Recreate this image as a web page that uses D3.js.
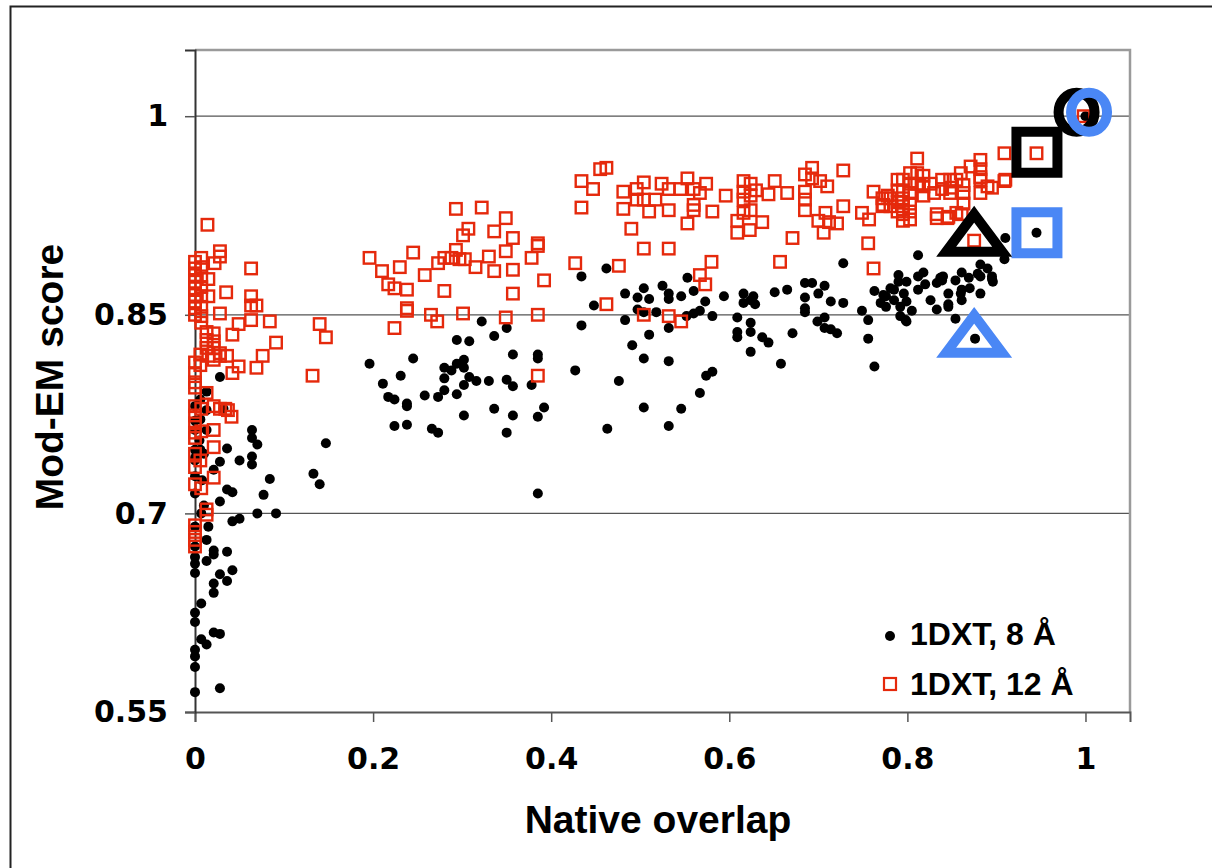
<!DOCTYPE html>
<html>
<head>
<meta charset="utf-8">
<script src="https://cdn.jsdelivr.net/npm/d3@7"></script>
<style>
  body { margin: 0; background: #fff; }
  svg { display: block; }
</style>
</head>
<body>
<div id="chart"></div>
<script>
// 1DXT, 8 A  (black dots)  [native overlap, Mod-EM score]
var points8 = [
  [0.028,0.803],[0.013,0.792],[0.006,0.786],[0.000,0.781],[0.013,0.778],[0.032,0.779],[0.006,0.771],[0.000,0.763],
  [0.013,0.763],[0.064,0.763],[0.064,0.757],[0.070,0.752],[0.036,0.749],[0.000,0.748],[0.006,0.748],[0.028,0.739],
  [0.050,0.740],[0.064,0.743],[0.064,0.737],[0.021,0.733],[0.084,0.726],[0.036,0.718],[0.042,0.716],[0.077,0.714],
  [0.028,0.709],[0.070,0.700],[0.091,0.700],[0.042,0.694],[0.050,0.696],[0.015,0.690],[0.013,0.680],[0.021,0.672],
  [0.036,0.671],[0.021,0.669],[0.000,0.667],[0.000,0.662],[0.013,0.664],[0.000,0.655],[0.042,0.657],[0.028,0.654],
  [0.036,0.649],[0.021,0.647],[0.021,0.640],[0.007,0.632],[0.000,0.625],[0.000,0.618],[0.021,0.610],[0.028,0.609],
  [0.007,0.605],[0.013,0.601],[0.000,0.597],[0.000,0.592],[0.000,0.584],[0.000,0.565],[0.028,0.568],[0.000,0.770],
  [0.005,0.755],[0.000,0.742],[0.010,0.745],[0.000,0.728],[0.008,0.725],[0.000,0.715],[0.010,0.706],[0.000,0.740],
  [0.000,0.690],[0.000,0.675],[0.007,0.700],
  [0.147,0.753],[0.133,0.730],[0.140,0.722],[0.196,0.813],
  [0.322,0.845],[0.350,0.840],[0.336,0.834],[0.294,0.831],[0.308,0.830],[0.245,0.817],[0.357,0.820],[0.385,0.820],
  [0.385,0.817],[0.231,0.804],[0.211,0.798],[0.280,0.810],[0.294,0.813],[0.302,0.816],[0.302,0.810],[0.288,0.808],
  [0.280,0.802],[0.308,0.803],[0.316,0.800],[0.330,0.800],[0.350,0.801],[0.357,0.796],[0.378,0.797],[0.302,0.797],
  [0.280,0.793],[0.273,0.788],[0.294,0.790],[0.217,0.788],[0.224,0.786],[0.258,0.789],[0.238,0.783],[0.238,0.781],
  [0.336,0.779],[0.392,0.780],[0.302,0.774],[0.357,0.774],[0.385,0.773],[0.224,0.766],[0.238,0.767],[0.266,0.764],
  [0.273,0.761],[0.350,0.761],[0.385,0.715],
  [0.434,0.879],[0.448,0.857],[0.434,0.842],[0.427,0.808],[0.462,0.885],[0.553,0.878],[0.483,0.866],[0.504,0.870],
  [0.497,0.863],[0.510,0.862],[0.497,0.854],[0.504,0.852],[0.483,0.846],[0.518,0.852],[0.525,0.872],[0.532,0.866],
  [0.532,0.862],[0.546,0.864],[0.560,0.868],[0.573,0.860],[0.560,0.851],[0.567,0.853],[0.552,0.849],[0.581,0.849],
  [0.594,0.864],[0.532,0.840],[0.510,0.835],[0.491,0.827],[0.504,0.817],[0.532,0.815],[0.476,0.800],[0.504,0.780],
  [0.546,0.779],[0.567,0.791],[0.574,0.804],[0.581,0.807],[0.532,0.766],[0.463,0.764],
  [0.616,0.866],[0.627,0.864],[0.616,0.859],[0.624,0.861],[0.629,0.858],[0.609,0.848],[0.624,0.844],[0.609,0.837],
  [0.609,0.833],[0.624,0.837],[0.637,0.833],[0.644,0.829],[0.624,0.822],[0.651,0.867],[0.665,0.869],[0.671,0.836],
  [0.658,0.813],[0.685,0.874],[0.693,0.874],[0.685,0.863],[0.700,0.866],[0.707,0.872],[0.714,0.860],[0.685,0.855],
  [0.685,0.852],[0.699,0.845],[0.707,0.848],[0.707,0.840],[0.714,0.839],[0.721,0.836],[0.728,0.889],[0.728,0.859],
  [0.749,0.853],[0.756,0.846],[0.756,0.832],[0.763,0.811],[0.763,0.868],[0.770,0.859],[0.776,0.856],[0.776,0.864],
  [0.785,0.869],[0.790,0.880],[0.790,0.875],[0.799,0.875],[0.785,0.861],[0.792,0.856],[0.799,0.860],[0.792,0.849],
  [0.799,0.845],[0.781,0.870],[0.773,0.865],[0.796,0.866],
  [0.805,0.853],[0.812,0.895],[0.812,0.879],[0.818,0.882],[0.812,0.869],[0.820,0.873],[0.826,0.861],[0.833,0.874],
  [0.840,0.879],[0.833,0.854],[0.846,0.866],[0.846,0.858],[0.854,0.876],[0.854,0.847],[0.861,0.882],[0.861,0.861],
  [0.869,0.878],[0.882,0.888],[0.882,0.879],[0.890,0.885],[0.882,0.866],[0.896,0.875],[0.876,0.832],[0.910,0.908],
  [0.909,0.892],[0.945,0.912],[1.000,1.000],[0.861,0.869],[0.846,0.856],[0.798,0.846],[0.839,0.876],[0.895,0.877],
  [0.837,0.878],[0.879,0.881],[0.895,0.879],[0.860,0.866],[0.870,0.870]
];

// 1DXT, 12 A  (red open squares)
var points12 = [
  [0.014,0.918],[0.028,0.898],[0.028,0.894],[0.022,0.889],[0.063,0.885],[0.035,0.867],[0.063,0.864],[0.063,0.857],
  [0.069,0.857],[0.028,0.851],[0.063,0.846],[0.084,0.845],[0.049,0.843],[0.042,0.835],[0.091,0.829],[0.076,0.819],
  [0.049,0.811],[0.069,0.810],[0.042,0.806],
  [0.000,0.890],[0.000,0.885],[0.000,0.880],[0.000,0.875],[0.000,0.870],[0.000,0.865],[0.000,0.860],[0.000,0.855],
  [0.000,0.850],[0.007,0.893],[0.007,0.886],[0.007,0.879],[0.007,0.871],[0.007,0.864],[0.007,0.856],[0.007,0.849],
  [0.007,0.844],[0.015,0.877],[0.015,0.864],
  [0.013,0.837],[0.021,0.836],[0.013,0.831],[0.021,0.830],[0.013,0.825],[0.021,0.825],[0.028,0.821],[0.006,0.820],
  [0.015,0.819],[0.021,0.816],[0.028,0.819],[0.036,0.819],[0.000,0.814],[0.006,0.812],[0.000,0.799],[0.013,0.791],
  [0.000,0.806],[0.000,0.795],
  [0.000,0.781],[0.007,0.779],[0.000,0.774],[0.021,0.781],[0.034,0.779],[0.041,0.773],[0.000,0.761],[0.007,0.762],
  [0.021,0.763],[0.021,0.750],[0.000,0.735],[0.021,0.727],[0.000,0.722],[0.007,0.719],[0.013,0.703],[0.013,0.699],
  [0.000,0.691],[0.000,0.686],[0.000,0.680],[0.000,0.675],[0.000,0.757],[0.000,0.768],[0.000,0.745],[0.006,0.740],
  [0.028,0.779],[0.037,0.778],
  [0.140,0.843],[0.147,0.833],[0.132,0.804],
  [0.196,0.893],[0.210,0.883],[0.230,0.886],[0.245,0.897],[0.217,0.873],[0.224,0.870],[0.238,0.869],[0.238,0.855],
  [0.238,0.853],[0.224,0.840],[0.258,0.880],[0.273,0.889],[0.280,0.893],[0.280,0.868],[0.265,0.850],[0.272,0.845],
  [0.288,0.893],[0.293,0.899],[0.293,0.930],[0.301,0.910],[0.307,0.915],[0.297,0.892],[0.303,0.892],[0.315,0.886],
  [0.322,0.931],[0.330,0.894],[0.336,0.913],[0.336,0.883],[0.349,0.923],[0.357,0.908],[0.349,0.898],[0.357,0.884],
  [0.357,0.866],[0.349,0.848],[0.301,0.851],[0.378,0.893],[0.385,0.904],[0.385,0.902],[0.392,0.876],[0.385,0.850],
  [0.385,0.804],[0.427,0.889],[0.434,0.931],[0.434,0.951],[0.447,0.945],[0.455,0.960],
  [0.462,0.961],[0.481,0.943],[0.496,0.945],[0.504,0.950],[0.496,0.937],[0.504,0.937],[0.481,0.930],[0.510,0.928],
  [0.517,0.937],[0.524,0.949],[0.532,0.945],[0.532,0.929],[0.553,0.953],[0.545,0.945],[0.560,0.945],[0.567,0.942],
  [0.574,0.949],[0.560,0.933],[0.560,0.929],[0.553,0.919],[0.581,0.928],[0.596,0.940],[0.490,0.915],[0.504,0.900],
  [0.532,0.900],[0.476,0.887],[0.462,0.858],[0.580,0.890],[0.567,0.880],[0.573,0.873],[0.504,0.850],[0.532,0.849],
  [0.546,0.845],[0.616,0.951],[0.624,0.949],[0.616,0.943],[0.630,0.944],[0.624,0.940],[0.616,0.937],[0.624,0.929],
  [0.616,0.927],[0.637,0.920],[0.609,0.921],[0.609,0.912],[0.623,0.914],[0.644,0.941],[0.651,0.951],[0.665,0.942],
  [0.671,0.908],[0.657,0.890],[0.685,0.956],[0.693,0.961],[0.685,0.943],[0.693,0.953],[0.702,0.951],[0.710,0.947],
  [0.685,0.937],[0.685,0.929],[0.700,0.921],[0.708,0.927],[0.712,0.920],[0.706,0.912],[0.721,0.919],[0.728,0.959],
  [0.728,0.932],[0.749,0.927],[0.757,0.922],[0.762,0.943],[0.773,0.933],[0.778,0.940],[0.756,0.904],[0.762,0.885],
  [0.772,0.938],[0.772,0.932],[0.781,0.938],[0.781,0.932],[0.789,0.952],[0.789,0.944],[0.789,0.935],[0.789,0.928],
  [0.795,0.952],[0.795,0.944],[0.795,0.938],[0.795,0.932],[0.795,0.926],[0.795,0.921],[0.803,0.957],[0.803,0.949],
  [0.803,0.942],[0.803,0.934],[0.803,0.928],[0.803,0.922],[0.811,0.968],[0.811,0.957],[0.811,0.949],[0.818,0.955],
  [0.818,0.947],[0.818,0.940],[0.826,0.949],[0.830,0.942],[0.833,0.923],[0.839,0.952],[0.839,0.945],[0.845,0.923],
  [0.848,0.952],[0.848,0.942],[0.850,0.946],[0.855,0.952],[0.855,0.927],[0.863,0.948],[0.863,0.942],[0.863,0.934],
  [0.860,0.957],[0.882,0.967],[0.882,0.960],[0.882,0.952],[0.882,0.942],[0.890,0.947],[0.895,0.946],[0.910,0.952],
  [0.909,0.972],[0.875,0.906],[0.871,0.962],[0.909,0.951],[0.945,0.972],[0.998,1.000],[0.882,0.954],[0.833,0.926],
  [0.846,0.924],[0.861,0.926]
];

// highlighted models (big outlined markers)
var markOverlap = [0.990, 1.004, 0.9455, 0.9455, 0.875, 0.875];
var markScore   = [1.003, 1.003, 0.9728, 0.912, 0.9128, 0.8364];
var markShape   = ["circle", "circle", "square", "square", "triangle", "triangle"];
var markSeries  = ["12", "8", "12", "8", "12", "8"];

var xTicks = [0, 0.2, 0.4, 0.6, 0.8, 1];
var yTicks = [0.55, 0.7, 0.85, 1];
var legendLabels = ["1DXT, 8 Å", "1DXT, 12 Å"];

var width = 1212, height = 868;
var red = "#e5290c", blue = "#4a87f5";
var labelFont = "'DejaVu Sans', Verdana, sans-serif";
var titleFont = "'Liberation Sans', Arial, sans-serif";

var svg = d3.select("#chart").append("svg")
  .attr("width", width)
  .attr("height", height);

svg.append("rect").attr("width", width).attr("height", height).attr("fill", "#fff");

// outer frame (runs off the right and bottom)
svg.append("rect")
  .attr("x", 10.5).attr("y", 6.5)
  .attr("width", 1400).attr("height", 1000)
  .attr("fill", "none").attr("stroke", "#222").attr("stroke-width", 2);

var x = d3.scaleLinear().domain([0, 1.05]).range([195, 1130]);
var y = d3.scaleLinear().domain([0.55, 1.05]).range([712, 50]);

// gridlines
svg.append("g").selectAll("line")
  .data(yTicks.filter(function(d) { return d > 0.55; }))
  .enter().append("line")
  .attr("x1", x(0)).attr("x2", x(1.05))
  .attr("y1", function(d) { return y(d); })
  .attr("y2", function(d) { return y(d); })
  .attr("stroke", "#555").attr("stroke-width", 1.3);

// plot frame: top and right light grey
svg.append("path")
  .attr("d", "M" + x(0) + "," + y(1.05) + "H" + x(1.05) + "V" + y(0.55))
  .attr("fill", "none").attr("stroke", "#9a9a9a").attr("stroke-width", 2.5);

var xAxis = d3.axisBottom(x).tickValues(xTicks).tickSize(10).tickPadding(26)
  .tickFormat(function(d) { return d; });
var yAxis = d3.axisLeft(y).tickValues(yTicks).tickSize(10).tickPadding(17)
  .tickFormat(function(d) { return d; });

var gx = svg.append("g").attr("transform", "translate(0," + y(0.55) + ")").call(xAxis);
var gy = svg.append("g").attr("transform", "translate(" + x(0) + ",0)").call(yAxis);

gx.select(".domain").attr("stroke", "#555").attr("stroke-width", 2);
gy.select(".domain").attr("stroke", "#333").attr("stroke-width", 2);
[gx, gy].forEach(function(g) {
  g.selectAll(".tick line").attr("stroke", "#555").attr("stroke-width", 1.5);
  g.selectAll(".tick text")
    .attr("fill", "#000")
    .style("font-family", labelFont)
    .style("font-weight", "bold")
    .style("font-size", "30px");
});

// black dots, 8 A
svg.append("g").selectAll("circle")
  .data(points8)
  .enter().append("circle")
  .attr("cx", function(d) { return x(d[0]); })
  .attr("cy", function(d) { return y(d[1]); })
  .attr("r", 5)
  .attr("fill", "#000");

// red squares, 12 A
var sq = 11.5;
svg.append("g").selectAll("rect")
  .data(points12)
  .enter().append("rect")
  .attr("x", function(d) { return x(d[0]) - sq / 2; })
  .attr("y", function(d) { return y(d[1]) - sq / 2; })
  .attr("width", sq).attr("height", sq)
  .attr("fill", "none")
  .attr("stroke", red)
  .attr("stroke-width", 2.4);

// highlight markers
var marks = markShape.map(function(s, i) {
  return { shape: s, series: markSeries[i], x: markOverlap[i], y: markScore[i] };
});

var shapePath = {
  square: "M-20.5,-20.5H20.5V20.5H-20.5Z",
  triangle: "M0,-17.5L28,20L-28,20Z"
};

var gm = svg.append("g");
marks.forEach(function(m) {
  var col = m.series === "12" ? "#000" : blue;
  var el;
  if (m.shape === "circle") {
    el = gm.append("ellipse").attr("rx", 18).attr("ry", 19.5);
  } else {
    el = gm.append("path").attr("d", shapePath[m.shape]).attr("stroke-linejoin", "miter");
  }
  el.attr("transform", "translate(" + x(m.x) + "," + y(m.y) + ")")
    .attr("fill", "none")
    .attr("stroke", col)
    .attr("stroke-width", 10);
});

// legend
var legend = svg.append("g");
legend.append("circle").attr("cx", 890).attr("cy", 636).attr("r", 5).attr("fill", "#000");
legend.append("rect").attr("x", 884).attr("y", 678).attr("width", 12).attr("height", 12)
  .attr("fill", "none").attr("stroke", red).attr("stroke-width", 2.2);
legend.selectAll("text")
  .data(legendLabels)
  .enter().append("text")
  .attr("x", 910)
  .attr("y", function(d, i) { return 645 + i * 50; })
  .style("font-family", titleFont)
  .style("font-weight", "bold")
  .style("font-size", "32px")
  .text(function(d) { return d; });

// axis titles
svg.append("text")
  .attr("x", 658).attr("y", 833)
  .attr("text-anchor", "middle")
  .style("font-family", titleFont)
  .style("font-weight", "bold")
  .style("font-size", "39px")
  .text("Native overlap");

svg.append("text")
  .attr("transform", "translate(63,377) rotate(-90)")
  .attr("text-anchor", "middle")
  .style("font-family", titleFont)
  .style("font-weight", "bold")
  .style("font-size", "39px")
  .text("Mod-EM score");
</script>
</body>
</html>
